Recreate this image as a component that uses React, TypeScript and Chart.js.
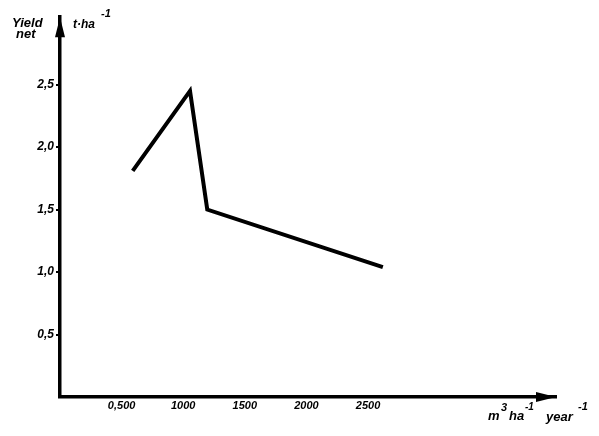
import React, { useEffect, useRef } from "react";
import { Chart, registerables } from "chart.js";

Chart.register(...registerables);

const waterSupply = [590, 1055, 1195, 2620];
const yieldNet = [1.81, 2.45, 1.5, 1.04];
const xTickValues = [500, 1000, 1500, 2000, 2500];
const xTickLabels = ["0,500", "1000", "1500", "2000", "2500"];
const yTickValues = [0.5, 1.0, 1.5, 2.0, 2.5];
const yTickLabels = ["0,5", "1,0", "1,5", "2,0", "2,5"];

const FONT = '"Liberation Sans", Arial, sans-serif';

const decorPlugin = {
  id: "decor",
  afterDraw(chart: any) {
    const { ctx, chartArea } = chart;
    const { left, top, right, bottom } = chartArea;
    ctx.save();
    ctx.fillStyle = "#000";
    // y-axis arrow
    ctx.beginPath();
    ctx.moveTo(left, top);
    ctx.lineTo(left - 5, top + 20);
    ctx.lineTo(left + 5, top + 20);
    ctx.closePath();
    ctx.fill();
    // x-axis arrow
    ctx.beginPath();
    ctx.moveTo(right, bottom);
    ctx.lineTo(right - 20, bottom - 5);
    ctx.lineTo(right - 20, bottom + 5);
    ctx.closePath();
    ctx.fill();

    const txt = (s: string, x: number, y: number, size: number) => {
      ctx.font = `italic bold ${size}px ${FONT}`;
      ctx.textBaseline = "alphabetic";
      ctx.textAlign = "left";
      ctx.fillText(s, x, y);
    };
    // y-axis title (canvas coords: page - 8)
    txt("Yield", 4, 19, 13);
    txt("net", 8, 30, 13);
    txt("t·ha", 65, 20, 12);
    txt("-1", 93, 9, 11);
    // x-axis title
    txt("m", 480, 412, 13);
    txt("3", 493, 403, 11);
    txt("ha", 501, 412, 13);
    txt("-1", 517, 402, 10);
    txt("year", 538, 413, 13);
    txt("-1", 570, 402, 11);
    ctx.restore();
  },
};

export default function App() {
  const ref = useRef<HTMLCanvasElement | null>(null);
  useEffect(() => {
    if (!ref.current) return;
    const chart = new Chart(ref.current, {
      type: "line",
      data: {
        datasets: [
          {
            data: waterSupply.map((x, i) => ({ x, y: yieldNet[i] })),
            borderColor: "#000",
            borderWidth: 4,
            pointRadius: 0,
            tension: 0,
            fill: false,
          },
        ],
      },
      options: {
        responsive: false,
        animation: false,
        layout: { padding: { left: 0, top: 5, right: 35, bottom: 0 } },
        plugins: { legend: { display: false }, tooltip: { enabled: false } },
        scales: {
          x: {
            type: "linear",
            min: 0,
            max: 4025,
            afterBuildTicks: (scale: any) => {
              scale.ticks = xTickValues.map((v) => ({ value: v }));
            },
            afterFit: (scale: any) => {
              scale.height = 31;
            },
            grid: { display: true, drawOnChartArea: false, drawTicks: false, color: "#000" },
            border: { display: true, color: "#000", width: 3.5 },
            ticks: {
              color: "#000",
              padding: 2,
              maxRotation: 0,
              autoSkip: false,
              font: { family: FONT, size: 11, style: "italic", weight: "bold" },
              callback: (v: any) => {
                const i = xTickValues.indexOf(Number(v));
                return i >= 0 ? xTickLabels[i] : "";
              },
            },
          },
          y: {
            type: "linear",
            min: 0,
            max: 3.04,
            afterBuildTicks: (scale: any) => {
              scale.ticks = yTickValues.map((v) => ({ value: v }));
            },
            afterFit: (scale: any) => {
              scale.width = 52;
            },
            grid: {
              display: true,
              drawOnChartArea: false,
              drawTicks: true,
              tickLength: 4,
              lineWidth: 2,
              color: "#000",
            },
            border: { display: true, color: "#000", width: 3.5 },
            ticks: {
              color: "#000",
              padding: 2,
              autoSkip: false,
              font: { family: FONT, size: 12, style: "italic", weight: "bold" },
              callback: (v: any) => {
                const i = yTickValues.indexOf(Number(v));
                return i >= 0 ? yTickLabels[i] : "";
              },
            },
          },
        },
      },
      plugins: [decorPlugin],
    } as any);
    return () => chart.destroy();
  }, []);
  return (
    <canvas
      ref={ref}
      width={583}
      height={420}
      style={{ display: "block", width: 583, height: 420 }}
    />
  );
}
